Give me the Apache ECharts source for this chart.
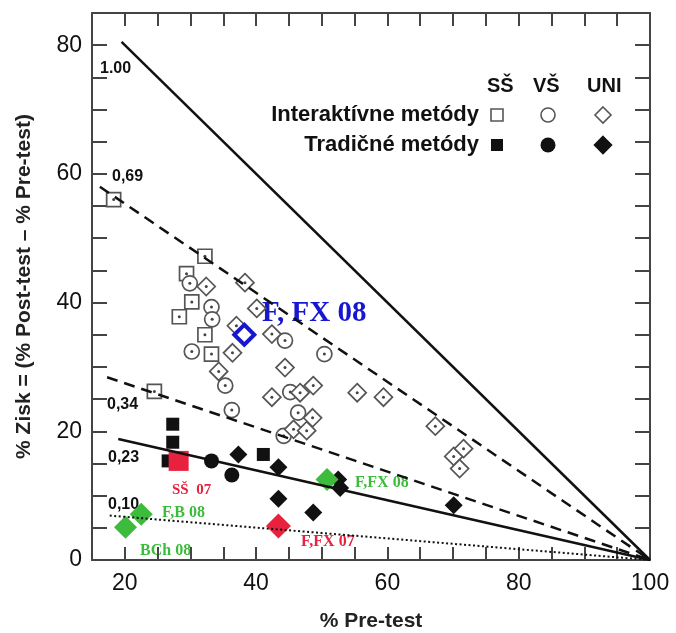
<!DOCTYPE html>
<html>
<head>
<meta charset="utf-8">
<script src="https://cdn.jsdelivr.net/npm/echarts@6/dist/echarts.min.js"></script>
<style>
html, body { margin: 0; padding: 0; background: #fff; }
#chart { width: 676px; height: 633px; }
</style>
</head>
<body>
<div id="chart"></div>
<script>
// normalised gain lines g = gain / (100 - pre), all end in (100, 0)
const line100 = [[19.5, 80.5], [100, 0]];
const line069 = [[16.2, 58.0], [100, 0]];
const line034 = [[17.3, 28.4], [100, 0]];
const line023 = [[19.0, 18.8], [100, 0]];
const line010 = [[17.7, 6.9], [100, 0]];

// SŠ / VŠ / UNI, interactive (open) and traditional (filled) methods
const ssInter = [[18.3, 56.0], [32.2, 47.2], [29.4, 44.5], [30.2, 40.1], [28.3, 37.8],
  [32.2, 35.0], [33.2, 32.0], [24.5, 26.2]];
const vsInter = [[29.9, 43.0], [33.2, 39.3], [33.3, 37.4], [30.2, 32.4], [35.3, 27.1],
  [36.3, 23.3], [44.4, 34.1], [45.2, 26.1], [46.4, 22.9], [50.4, 32.0], [44.2, 19.3]];
const uniInter = [[32.4, 42.5], [38.3, 43.1], [40.1, 39.1], [42.4, 35.1], [36.4, 32.2],
  [34.3, 29.3], [44.4, 29.9], [42.4, 25.3], [46.7, 26.0], [48.7, 27.1], [55.4, 26.0],
  [59.4, 25.3], [48.6, 22.1], [45.7, 20.3], [47.7, 20.1], [67.3, 20.8], [70.1, 16.1],
  [71.6, 17.3], [71.0, 14.2], [37.0, 36.4]];
const ssTrad = [[27.3, 21.1], [27.3, 18.3], [26.6, 15.4], [41.1, 16.4]];
const vsTrad = [[33.2, 15.4], [36.3, 13.2]];
const uniTrad = [[37.3, 16.4], [43.4, 14.4], [43.4, 9.5], [48.7, 7.4], [52.5, 12.5],
  [52.8, 11.2], [70.1, 8.5]];

// highlighted courses
const ss07 = [[28.2, 15.4]];
const ffx07 = [[43.4, 5.3]];
const green08 = [[20.1, 5.1], [22.5, 7.1], [50.8, 12.5]];
const ffx08 = [[38.2, 35.0]];

const xLabels = [20, 40, 60, 80, 100];
const yLabels = [0, 20, 40, 60, 80];

const grey = '#555';
const red = '#e8213f';
const green = '#3dbb3d';
const blue = '#1717cf';
const sans = '"Liberation Sans", Arial, sans-serif';
const serif = '"Liberation Serif", "Times New Roman", serif';

const chart = echarts.init(document.getElementById('chart'));

function gainLine(data, type, width) {
  return {
    type: 'line', data: data, symbol: 'none', silent: true,
    lineStyle: { color: '#111', width: width, type: type }
  };
}
function openSeries(data, symbol, size) {
  return {
    type: 'scatter', data: data, symbol: symbol, symbolSize: size, silent: true,
    itemStyle: { color: '#fff', borderColor: grey, borderWidth: 1.7, opacity: 1 }
  };
}
function dotSeries(data) {
  return {
    type: 'scatter', data: data, symbol: 'circle', symbolSize: 3, silent: true,
    itemStyle: { color: '#444', opacity: 1 }
  };
}
function filledSeries(data, symbol, size, color) {
  return {
    type: 'scatter', data: data, symbol: symbol, symbolSize: size, silent: true,
    itemStyle: { color: color, opacity: 1 }
  };
}

const baseX = {
  type: 'value', min: 15, max: 100, interval: 5,
  axisLine: { show: true, onZero: false, lineStyle: { color: '#444', width: 2 } },
  axisTick: { show: true, inside: true, length: 13, lineStyle: { color: '#444', width: 2 } },
  splitLine: { show: false }
};
const baseY = {
  type: 'value', min: 0, max: 85, interval: 5,
  axisLine: { show: true, onZero: false, lineStyle: { color: '#444', width: 2 } },
  axisTick: { show: true, inside: true, length: 15, lineStyle: { color: '#444', width: 2 } },
  splitLine: { show: false }
};

function legendText(text, x, y, size, align) {
  return {
    type: 'text', silent: true,
    style: { text: text, x: x, y: y, font: 'bold ' + size + 'px ' + sans, fill: '#111',
      textAlign: align || 'left', textVerticalAlign: 'middle' }
  };
}
function note(text, x, y, font, color) {
  return {
    type: 'text', silent: true,
    style: { text: text, x: x, y: y, font: font, fill: color,
      textAlign: 'left', textVerticalAlign: 'middle' }
  };
}
function diamond(cx, cy, r, fill, stroke) {
  return {
    type: 'polygon', silent: true,
    shape: { points: [[cx, cy - r], [cx + r, cy], [cx, cy + r], [cx - r, cy]] },
    style: { fill: fill, stroke: stroke, lineWidth: 1.6 }
  };
}

chart.setOption({
  animation: false,
  backgroundColor: '#fff',
  grid: { left: 92, right: 26, top: 13, bottom: 73, containLabel: false, outerBoundsMode: 'none' },
  xAxis: [
    Object.assign({}, baseX, {
      position: 'bottom',
      name: '% Pre-test', nameLocation: 'middle', nameGap: 51,
      nameTextStyle: { fontFamily: sans, fontSize: 21, fontWeight: 'bold', color: '#222' },
      axisLabel: {
        margin: 12, fontFamily: sans, fontSize: 23, color: '#111',
        formatter: v => (xLabels.indexOf(v) >= 0 ? String(v) : '')
      }
    }),
    Object.assign({}, baseX, { position: 'top', axisLabel: { show: false } })
  ],
  yAxis: [
    Object.assign({}, baseY, {
      position: 'left',
      name: '% Zisk = (% Post-test \u2013 % Pre-test)', nameLocation: 'middle',
      nameRotate: 90, nameGap: 57,
      nameTextStyle: { fontFamily: sans, fontSize: 21, fontWeight: 'bold', color: '#222' },
      axisLabel: {
        margin: 10, fontFamily: sans, fontSize: 23, color: '#111',
        formatter: v => (yLabels.indexOf(v) >= 0 ? String(v) : '')
      }
    }),
    Object.assign({}, baseY, { position: 'right', axisLabel: { show: false } })
  ],
  series: [
    gainLine(line100, 'solid', 2.5),
    gainLine(line069, [11, 7], 2.5),
    gainLine(line034, [11, 7], 2.5),
    gainLine(line023, 'solid', 2.5),
    gainLine(line010, [2, 2.5], 2),
    openSeries(ssInter, 'rect', 14),
    dotSeries(ssInter),
    openSeries(vsInter, 'circle', 15),
    dotSeries(vsInter),
    openSeries(uniInter, 'diamond', 18),
    dotSeries(uniInter),
    filledSeries(ssTrad, 'rect', 13, '#111'),
    filledSeries(vsTrad, 'circle', 15, '#111'),
    filledSeries(uniTrad, 'diamond', 18, '#111'),
    filledSeries(ss07, 'rect', 20, red),
    filledSeries(ffx07, 'diamond', 25, red),
    filledSeries(green08, 'diamond', 23, green),
    {
      type: 'scatter', data: ffx08, symbol: 'diamond', symbolSize: 20, silent: true,
      itemStyle: { color: '#fff', borderColor: blue, borderWidth: 4, opacity: 1 }
    }
  ],
  graphic: [
    legendText('SŠ', 487, 86, 20), legendText('VŠ', 533, 86, 20), legendText('UNI', 587, 86, 20),
    legendText('Interaktívne metódy', 479, 115, 22, 'right'),
    legendText('Tradičné metódy', 479, 145, 22, 'right'),
    { type: 'rect', silent: true, shape: { x: 491, y: 109, width: 12, height: 12 },
      style: { fill: '#fff', stroke: grey, lineWidth: 1.6 } },
    { type: 'circle', silent: true, shape: { cx: 548, cy: 115, r: 7 },
      style: { fill: '#fff', stroke: grey, lineWidth: 1.6 } },
    diamond(603, 115, 8, '#fff', grey),
    { type: 'rect', silent: true, shape: { x: 491, y: 139, width: 12, height: 12 },
      style: { fill: '#111' } },
    { type: 'circle', silent: true, shape: { cx: 548, cy: 145, r: 7.5 },
      style: { fill: '#111' } },
    diamond(603, 145, 8.5, '#111', '#111'),
    note('1.00', 100, 69, 'bold 16px ' + sans, '#111'),
    note('0,69', 112, 177, 'bold 16px ' + sans, '#111'),
    note('0,34', 107, 405, 'bold 16px ' + sans, '#111'),
    note('0,23', 108, 458, 'bold 16px ' + sans, '#111'),
    note('0,10', 108, 505, 'bold 16px ' + sans, '#111'),
    note('F, FX 08', 262, 314, 'bold 29px ' + serif, blue),
    note('SŠ  07', 172, 490, 'bold 15px ' + serif, red),
    note('F,FX 07', 301, 542, 'bold 16px ' + serif, red),
    note('F,B 08', 162, 513, 'bold 16px ' + serif, green),
    note('BCh 08', 140, 551, 'bold 16px ' + serif, green),
    note('F,FX 08', 355, 483, 'bold 16px ' + serif, green)
  ]
});
</script>
</body>
</html>
